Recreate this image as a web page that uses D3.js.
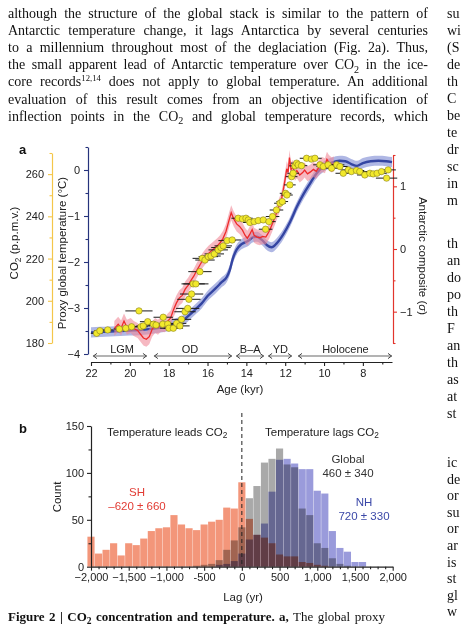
<!DOCTYPE html>
<html>
<head>
<meta charset="utf-8">
<script src="https://cdn.jsdelivr.net/npm/d3@7/dist/d3.min.js"></script>
<style>
  body { margin: 0; background: #fff; }
  svg { display: block; }
</style>
</head>
<body>
<svg id="fig" width="461" height="626"></svg>
<script>
// Figure 2 (CO2 vs temperature) redrawn with d3 v7

// ---- panel a data ----
const ageTicks = [22, 20, 18, 16, 14, 12, 10, 8];
const ageMinor = [21, 19, 17, 15, 13, 11, 9, 7];
const co2Ticks = [180, 200, 220, 240, 260];
const co2Minor = [190, 210, 230, 250, 270];
const tempTicks = [0, -1, -2, -3, -4];
const tempMinor = [0.5, -0.5, -1.5, -2.5, -3.5];
const sigmaTicks = [1, 0, -1];
const sigmaMinor = [1.5, 0.5, -0.5, -1.5];

// proxy global temperature stack: [age kyr, deg C]
const globalTemp = [
  [22.0, -3.53], [21.5, -3.52], [21.0, -3.51], [20.5, -3.5], [20.0, -3.49], [19.5, -3.48],
  [19.0, -3.46], [18.5, -3.43], [18.0, -3.39], [17.6, -3.33], [17.2, -3.25], [16.9, -3.14],
  [16.6, -3.02], [16.3, -2.9], [16.0, -2.74], [15.6, -2.58], [15.3, -2.45], [15.0, -2.32],
  [14.85, -2.17], [14.7, -1.93], [14.5, -1.73], [14.3, -1.63], [14.1, -1.58], [13.9, -1.54],
  [13.65, -1.46], [13.45, -1.45], [13.2, -1.52], [12.95, -1.63], [12.7, -1.68], [12.45, -1.6],
  [12.1, -1.4], [11.75, -1.13], [11.4, -0.8], [11.05, -0.52], [10.7, -0.28], [10.4, -0.08],
  [10.0, 0.08], [9.6, 0.16], [9.2, 0.2], [8.9, 0.19], [8.6, 0.13], [8.3, 0.09], [8.0, 0.15],
  [7.6, 0.19], [7.2, 0.2], [6.8, 0.19], [6.5, 0.17]
];

// Antarctic composite: [age kyr, sigma]
const antarctic = [
  [20.8, -1.27], [20.6, -1.2], [20.45, -1.26], [20.3, -1.15], [20.15, -1.25], [19.95, -1.22],
  [19.8, -1.27], [19.6, -1.3], [19.45, -1.36], [19.3, -1.42], [19.15, -1.44], [19.0, -1.4],
  [18.85, -1.28], [18.7, -1.22], [18.55, -1.25], [18.4, -1.2], [18.2, -1.21], [18.05, -1.15],
  [17.9, -1.1], [17.75, -0.97], [17.6, -0.86], [17.45, -0.78], [17.3, -0.74], [17.15, -0.64],
  [17.0, -0.58], [16.85, -0.5], [16.7, -0.43], [16.55, -0.34], [16.4, -0.26], [16.25, -0.18],
  [16.1, -0.12], [15.95, -0.07], [15.8, -0.03], [15.65, 0.01], [15.5, 0.05], [15.35, 0.1],
  [15.2, 0.17], [15.05, 0.28], [14.9, 0.45], [14.78, 0.58], [14.65, 0.48], [14.5, 0.4],
  [14.35, 0.36], [14.2, 0.3], [14.07, 0.22], [13.95, 0.17], [13.8, 0.25], [13.7, 0.31],
  [13.6, 0.22], [13.45, 0.19], [13.3, 0.18], [13.15, 0.2], [13.0, 0.19], [12.9, 0.24],
  [12.8, 0.3], [12.65, 0.41], [12.5, 0.53], [12.35, 0.66], [12.2, 0.78], [12.1, 0.94],
  [12.0, 1.12], [11.92, 1.28], [11.85, 1.22], [11.78, 1.46], [11.7, 1.27], [11.6, 1.3],
  [11.5, 1.21], [11.4, 1.25], [11.25, 1.18], [11.1, 1.22], [11.0, 1.26], [10.85, 1.2],
  [10.7, 1.23], [10.55, 1.27], [10.4, 1.24], [10.25, 1.31], [10.1, 1.35], [9.95, 1.33],
  [9.85, 1.43], [9.75, 1.38], [9.6, 1.34], [9.5, 1.36]
];

// CO2: [age kyr, ppmv, age error kyr]
const co2 = [
  [21.71, 184.6, 0.3], [21.54, 185.8, 0.3], [21.14, 186.2, 0.3], [20.54, 186.6, 0.3],
  [20.21, 187.0, 0.3], [19.91, 187.7, 0.35], [19.53, 195.2, 0.7], [19.43, 187.7, 0.35],
  [19.31, 188.1, 0.35], [19.08, 190.1, 0.4], [18.79, 188.9, 0.4], [18.65, 188.5, 0.4],
  [18.28, 192.2, 0.5], [18.31, 188.9, 0.45], [18.05, 189.0, 0.45], [17.99, 187.0, 0.45],
  [17.76, 187.0, 0.5], [17.59, 189.3, 0.5], [17.42, 188.1, 0.5], [17.34, 191.2, 0.5],
  [17.16, 194.8, 0.55], [17.02, 196.4, 0.6], [16.96, 200.7, 0.6], [16.82, 203.2, 0.6],
  [16.74, 208.0, 0.6], [16.6, 208.0, 0.65], [16.39, 213.8, 0.6], [16.27, 220.1, 0.5],
  [16.13, 219.3, 0.5], [15.96, 220.9, 0.5], [15.82, 221.2, 0.5], [15.65, 222.2, 0.5],
  [15.45, 224.1, 0.5], [15.31, 225.2, 0.5], [15.19, 226.0, 0.45], [14.99, 228.5, 0.45],
  [14.73, 228.8, 0.45], [14.42, 239.1, 0.35], [14.2, 238.8, 0.35], [14.02, 239.1, 0.35],
  [13.9, 238.3, 0.35], [13.82, 237.1, 0.35], [13.6, 237.5, 0.35], [13.39, 238.0, 0.35],
  [13.13, 238.3, 0.35], [13.01, 233.9, 0.35], [12.84, 237.5, 0.35], [12.65, 239.9, 0.35],
  [12.45, 243.0, 0.35], [12.27, 246.2, 0.3], [12.15, 247.0, 0.3], [11.98, 250.9, 0.3],
  [11.91, 250.1, 0.3], [11.76, 254.9, 0.3], [11.67, 258.8, 0.3], [11.59, 260.4, 0.3],
  [11.5, 263.9, 0.3], [11.41, 265.2, 0.3], [11.33, 264.4, 0.3], [11.16, 264.0, 0.3],
  [10.9, 267.5, 0.35], [10.65, 267.1, 0.35], [10.47, 267.5, 0.35], [10.21, 264.4, 0.35],
  [10.04, 263.6, 0.35], [9.79, 264.4, 0.4], [9.61, 262.8, 0.4], [9.35, 264.4, 0.4],
  [9.18, 263.6, 0.4], [9.01, 260.4, 0.4], [8.75, 262.0, 0.4], [8.59, 261.2, 0.4],
  [8.33, 261.7, 0.4], [8.16, 261.2, 0.4], [7.9, 259.6, 0.4], [7.64, 260.4, 0.4],
  [7.47, 260.1, 0.45], [7.27, 260.4, 0.5], [7.04, 261.2, 0.5], [6.78, 258.1, 0.55],
  [6.7, 262.0, 0.4]
];

// climate periods: [name, start kyr, end kyr, label position kyr]
const periods = [
  ["LGM", 21.9, 19.12, 20.4],
  ["OD", 18.76, 14.74, 16.9],
  ["B\u2013A", 14.53, 13.09, 13.8],
  ["YD", 12.88, 11.65, 12.25],
  ["Holocene", 11.34, 6.5, 8.9]
];

// ---- panel b data ----
const lagTicks = [-2000, -1500, -1000, -500, 0, 500, 1000, 1500, 2000];
const lagLabels = ["\u22122,000", "\u22121,500", "\u22121,000", "-500", "0", "500", "1,000", "1,500", "2,000"];
const countTicks = [0, 50, 100, 150];
const countMinor = [25, 75, 125];

// histograms: [bin centre yr, count]
const shLag = [
  [-2000, 32], [-1900, 14], [-1800, 18], [-1700, 25], [-1600, 12], [-1500, 25], [-1400, 23],
  [-1300, 30], [-1200, 38], [-1100, 41], [-1000, 42], [-900, 55], [-800, 45], [-700, 41],
  [-600, 39], [-500, 45], [-400, 48], [-300, 50], [-200, 63], [-100, 62], [0, 90], [100, 51],
  [200, 34], [300, 31], [400, 25], [500, 13], [600, 11], [700, 11], [800, 5], [900, 4],
  [1000, 2], [1100, 1]
];
const globalLag = [
  [-600, 1], [-500, 2], [-400, 3], [-300, 7], [-200, 18], [-100, 28], [0, 42], [100, 73],
  [200, 86], [300, 111], [400, 115], [500, 126], [600, 109], [700, 106], [800, 62], [900, 55],
  [1000, 25], [1100, 20], [1200, 9], [1300, 3], [1400, 1]
];
const nhLag = [
  [-300, 2], [-200, 3], [-100, 6], [0, 14], [100, 29], [200, 34], [300, 46], [400, 80],
  [500, 114], [600, 115], [700, 110], [800, 104], [900, 104], [1000, 81], [1100, 78],
  [1200, 38], [1300, 20], [1400, 16], [1500, 5], [1600, 5]
];

// ---- page text ----
const bodyLines = [
  ["although the structure of the global stack is similar to the pattern of"],
  ["Antarctic temperature change, it lags Antarctica by several centuries"],
  ["to a millennium throughout most of the deglaciation (Fig. 2a). Thus,"],
  ["the small apparent lead of Antarctic temperature over CO", {sub: "2"}, " in the ice-"],
  ["core records", {sup: "12,14"}, " does not apply to global temperature. An additional"],
  ["evaluation of this result comes from an objective identification of"],
  ["inflection points in the CO", {sub: "2"}, " and global temperature records, which"]
];
// visible start of the next column (cut by the page edge)
const sideCol = [
  ["su", "wi", "(S", "de", "th", "C", "be", "te", "dr", "sc", "in", "m"],
  ["th", "an", "do", "po", "th", "F", "an", "th", "as", "at", "st"],
  ["ic", "de", "or", "su", "or", "ar", "is", "st", "gl", "w"]
];

const SERIF = "'Liberation Serif', 'DejaVu Serif', serif";
const SANS = "'Liberation Sans', Arial, Helvetica, sans-serif";

const svg = d3.select("#fig");

function addRich(t, parts, fs) {
  let shift = 0;
  parts.forEach(p => {
    if (typeof p === "string") {
      t.append("tspan").attr("dy", -shift).text(p);
      shift = 0;
    } else if (p.sub) {
      t.append("tspan").attr("dy", fs * 0.25).attr("font-size", fs * 0.72).text(p.sub);
      shift = fs * 0.25;
    } else if (p.sup) {
      t.append("tspan").attr("dy", -fs * 0.4).attr("font-size", fs * 0.62).text(p.sup);
      shift = -fs * 0.4;
    }
  });
  return t;
}
function justify(t, w) {
  const n = t.node();
  const len = n.getComputedTextLength();
  const spaces = (n.textContent.match(/ /g) || []).length;
  if (spaces) t.attr("word-spacing", (w - len) / spaces);
}

// body paragraph
bodyLines.forEach((parts, i) => {
  const t = svg.append("text").attr("x", 8).attr("y", 17.5 + i * 17.2)
    .attr("font-family", SERIF).attr("font-size", 14).attr("fill", "#111");
  addRich(t, parts, 14);
  justify(t, 420);
});

// right column
const sideStart = [17.5, 248, 467], sideStep = [17.05, 17.0, 16.6];
sideCol.forEach((col, k) => {
  col.forEach((w, i) => {
    svg.append("text").attr("x", 447).attr("y", sideStart[k] + i * sideStep[k])
      .attr("font-family", SERIF).attr("font-size", 14).attr("fill", "#111").text(w);
  });
});

// ================= panel a =================
const x = d3.scaleLinear().domain([22, 6.5]).range([91, 392]);
const yCO2 = d3.scaleLinear().domain([180, 270]).range([343, 153]);
const yT = d3.scaleLinear().domain([-4, 0.5]).range([354, 147]);
const yA = d3.scaleLinear().domain([-1.5, 1.5]).range([343, 155]);
const minus = d => (d < 0 ? "\u2212" + Math.abs(d) : "" + d);

const YEL = "#f4c64a", NAVY = "#26337c", RED = "#e2352d";

function styleAxis(g, col) {
  g.select(".domain").attr("stroke", col).attr("stroke-width", 1.2);
  g.selectAll(".tick line").attr("stroke", col).attr("stroke-width", 1.1);
  g.selectAll(".tick text").attr("fill", "#222").attr("font-family", SANS).attr("font-size", 11);
}

// CO2 axis
const gC = svg.append("g").attr("transform", "translate(52,0)")
  .call(d3.axisLeft(yCO2).tickValues(co2Ticks).tickSize(4).tickSizeOuter(0).tickPadding(4));
styleAxis(gC, YEL);
const gCm = svg.append("g").attr("transform", "translate(52,0)")
  .call(d3.axisLeft(yCO2).tickValues(co2Minor).tickSize(2.5).tickFormat(""));
styleAxis(gCm, YEL);
gCm.select(".domain").remove();

// temperature axis
const gT = svg.append("g").attr("transform", "translate(88,0)")
  .call(d3.axisLeft(yT).tickValues(tempTicks).tickSize(4).tickSizeOuter(0).tickPadding(4).tickFormat(minus));
styleAxis(gT, NAVY);
const gTm = svg.append("g").attr("transform", "translate(88,0)")
  .call(d3.axisLeft(yT).tickValues(tempMinor).tickSize(2.5).tickFormat(""));
styleAxis(gTm, NAVY);
gTm.select(".domain").remove();

// Antarctic axis
const gA = svg.append("g").attr("transform", "translate(393,0)")
  .call(d3.axisRight(yA).tickValues(sigmaTicks).tickSize(4).tickSizeOuter(0).tickPadding(3).tickFormat(minus));
styleAxis(gA, RED);
const gAm = svg.append("g").attr("transform", "translate(393,0)")
  .call(d3.axisRight(yA).tickValues(sigmaMinor).tickSize(2.5).tickFormat(""));
styleAxis(gAm, RED);
gAm.select(".domain").remove();

// age axis
const gX = svg.append("g").attr("transform", "translate(0,362)")
  .call(d3.axisBottom(x).tickValues(ageTicks).tickSize(4).tickSizeOuter(0).tickPadding(3));
styleAxis(gX, "#222");
const gXm = svg.append("g").attr("transform", "translate(0,362)")
  .call(d3.axisBottom(x).tickValues(ageMinor).tickSize(2.5).tickFormat(""));
styleAxis(gXm, "#222");
gXm.select(".domain").remove();

// axis titles
const co2Title = svg.append("text").attr("transform", "translate(18,243) rotate(-90)")
  .attr("text-anchor", "middle").attr("font-family", SANS).attr("font-size", 11.5).attr("fill", "#222");
addRich(co2Title, ["CO", {sub: "2"}, " (p.p.m.v.)"], 11.5);
svg.append("text").attr("transform", "translate(66,253) rotate(-90)")
  .attr("text-anchor", "middle").attr("font-family", SANS).attr("font-size", 11.5).attr("fill", "#222")
  .text("Proxy global temperature (\u00b0C)");
const antTitle = svg.append("text").attr("transform", "translate(419,256) rotate(90)")
  .attr("text-anchor", "middle").attr("font-family", SANS).attr("font-size", 11.5).attr("fill", "#222");
antTitle.append("tspan").text("Antarctic composite (");
antTitle.append("tspan").attr("font-style", "italic").text("\u03c3");
antTitle.append("tspan").text(")");
svg.append("text").attr("x", 240).attr("y", 393).attr("text-anchor", "middle")
  .attr("font-family", SANS).attr("font-size", 11.5).attr("fill", "#222").text("Age (kyr)");
svg.append("text").attr("x", 19).attr("y", 154).attr("font-family", SANS)
  .attr("font-weight", "bold").attr("font-size", 13).attr("fill", "#111").text("a");

// period arrows
const perY = 356;
const pg = svg.append("g");
periods.forEach(p => {
  const x0 = x(p[1]), x1 = x(p[2]);
  pg.append("line").attr("x1", x0).attr("x2", x1).attr("y1", perY).attr("y2", perY)
    .attr("stroke", "#9a9a9a").attr("stroke-width", 1.3);
  pg.append("path").attr("d", `M${x0 + 4},${perY - 2.6}L${x0 + 0.5},${perY}L${x0 + 4},${perY + 2.6}`)
    .attr("fill", "none").attr("stroke", "#444").attr("stroke-width", 1);
  pg.append("path").attr("d", `M${x1 - 4},${perY - 2.6}L${x1 - 0.5},${perY}L${x1 - 4},${perY + 2.6}`)
    .attr("fill", "none").attr("stroke", "#444").attr("stroke-width", 1);
  pg.append("text").attr("x", x(p[3])).attr("y", perY - 3.5).attr("text-anchor", "middle")
    .attr("font-family", SANS).attr("font-size", 11).attr("fill", "#222").text(p[0]);
});

// global temperature band + line
const plot = svg.append("g");
plot.append("path").datum(globalTemp)
  .attr("d", d3.area().curve(d3.curveMonotoneX).x(d => x(d[0]))
    .y0(d => yT(d[1] - 0.11)).y1(d => yT(d[1] + 0.11)))
  .attr("fill", "#8d98d8").attr("opacity", 0.7);
plot.append("path").datum(globalTemp)
  .attr("d", d3.line().curve(d3.curveMonotoneX).x(d => x(d[0])).y(d => yT(d[1])))
  .attr("fill", "none").attr("stroke", "#3445a2").attr("stroke-width", 2.4);

// Antarctic band + line
plot.append("path").datum(antarctic)
  .attr("d", d3.area().x(d => x(d[0])).y0(d => yA(d[1] - 0.12)).y1(d => yA(d[1] + 0.12)))
  .attr("fill", "#f08898").attr("opacity", 0.6);
plot.append("path").datum(antarctic)
  .attr("d", d3.line().x(d => x(d[0])).y(d => yA(d[1])))
  .attr("fill", "none").attr("stroke", "#ee2a2a").attr("stroke-width", 1.3);

// CO2 points with age error bars
plot.append("g").selectAll("line").data(co2).join("line")
  .attr("x1", d => x(d[0] + d[2])).attr("x2", d => x(d[0] - d[2]))
  .attr("y1", d => yCO2(d[1])).attr("y2", d => yCO2(d[1]))
  .attr("stroke", "#1a1a1a").attr("stroke-width", 1);
plot.append("g").selectAll("circle").data(co2).join("circle")
  .attr("cx", d => x(d[0])).attr("cy", d => yCO2(d[1])).attr("r", 3.2)
  .attr("fill", "#f2e92c").attr("stroke", "#8a7f1e").attr("stroke-width", 0.6);

// ================= panel b =================
const xb = d3.scaleLinear().domain([-2000, 2000]).range([91, 392.7]);
const yb = d3.scaleLinear().domain([0, 150]).range([566.7, 426]);

function drawHist(data, col) {
  svg.append("g").selectAll("rect").data(data).join("rect")
    .attr("x", d => xb(d[0] - 50) + 0.2)
    .attr("width", d => xb(d[0] + 50) - xb(d[0] - 50) - 0.4)
    .attr("y", d => yb(d[1]))
    .attr("height", d => yb(0) - yb(d[1]))
    .attr("fill", col)
    .style("mix-blend-mode", "multiply");
}
drawHist(shLag, "#f3967a");
drawHist(globalLag, "#a9a9a9");
drawHist(nhLag, "#9a9bdb");

// zero line
svg.append("line").attr("x1", xb(0)).attr("x2", xb(0)).attr("y1", 413).attr("y2", yb(0))
  .attr("stroke", "#222").attr("stroke-width", 1).attr("stroke-dasharray", "4,3");

const gYb = svg.append("g").attr("transform", `translate(${xb(-2000)},0)`)
  .call(d3.axisLeft(yb).tickValues(countTicks).tickSize(4).tickSizeOuter(0).tickPadding(3));
styleAxis(gYb, "#222");
const gYbm = svg.append("g").attr("transform", `translate(${xb(-2000)},0)`)
  .call(d3.axisLeft(yb).tickValues(countMinor).tickSize(2.5).tickFormat(""));
styleAxis(gYbm, "#222");
gYbm.select(".domain").remove();

const gXb = svg.append("g").attr("transform", `translate(0,${yb(0)})`)
  .call(d3.axisBottom(xb).tickValues(lagTicks).tickSize(4).tickSizeOuter(0).tickPadding(3)
    .tickFormat((d, i) => lagLabels[i]));
styleAxis(gXb, "#222");
const gXbm = svg.append("g").attr("transform", `translate(0,${yb(0)})`)
  .call(d3.axisBottom(xb).tickValues(xb.ticks(40).filter(v => v % 500 !== 0)).tickSize(2.5).tickFormat(""));
styleAxis(gXbm, "#222");
gXbm.select(".domain").remove();

svg.append("text").attr("transform", "translate(61,497) rotate(-90)").attr("text-anchor", "middle")
  .attr("font-family", SANS).attr("font-size", 11.5).attr("fill", "#222").text("Count");
svg.append("text").attr("x", 243).attr("y", 601).attr("text-anchor", "middle")
  .attr("font-family", SANS).attr("font-size", 11.5).attr("fill", "#222").text("Lag (yr)");
svg.append("text").attr("x", 19).attr("y", 433).attr("font-family", SANS)
  .attr("font-weight", "bold").attr("font-size", 13).attr("fill", "#111").text("b");

const lead = svg.append("text").attr("x", 107).attr("y", 435.5)
  .attr("font-family", SANS).attr("font-size", 11.5).attr("fill", "#222");
addRich(lead, ["Temperature leads CO", {sub: "2"}], 11.5);
const lag = svg.append("text").attr("x", 265).attr("y", 435.5)
  .attr("font-family", SANS).attr("font-size", 11.5).attr("fill", "#222");
addRich(lag, ["Temperature lags CO", {sub: "2"}], 11.5);

function label(xp, yp, txt, col) {
  svg.append("text").attr("x", xp).attr("y", yp).attr("text-anchor", "middle")
    .attr("font-family", SANS).attr("font-size", 11.5).attr("fill", col).text(txt);
}
label(348, 462.5, "Global", "#333");
label(348, 476.5, "460 \u00b1 340", "#333");
label(364, 506, "NH", "#3b48a8");
label(364, 520, "720 \u00b1 330", "#3b48a8");
label(137, 496, "SH", "#e23c34");
label(137, 510, "\u2013620 \u00b1 660", "#e23c34");

// caption
const cap = svg.append("text").attr("x", 8).attr("y", 621)
  .attr("font-family", SERIF).attr("font-size", 13).attr("fill", "#111");
cap.append("tspan").attr("font-weight", "bold").text("Figure 2 | CO");
cap.append("tspan").attr("font-weight", "bold").attr("dy", 2.5).attr("font-size", 9.5).text("2");
cap.append("tspan").attr("font-weight", "bold").attr("dy", -2.5).text(" concentration and temperature. a,");
cap.append("tspan").text(" The global proxy");
justify(cap, 377);
</script>
</body>
</html>
